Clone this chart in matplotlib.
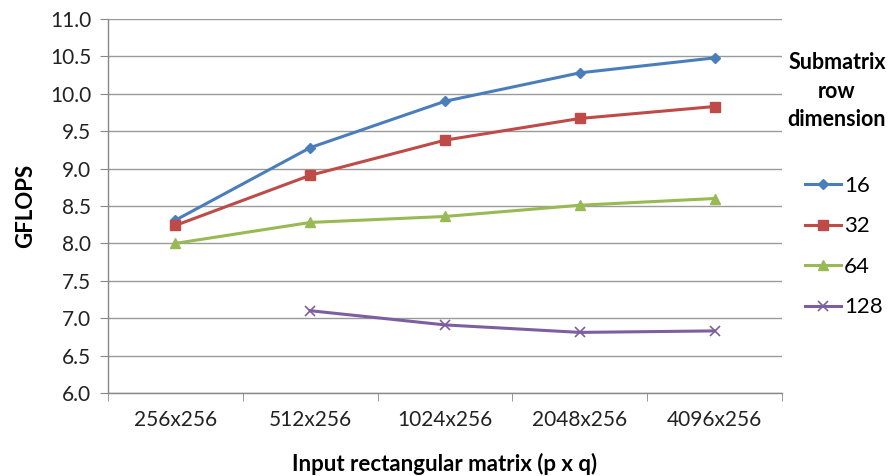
import numpy as np
import matplotlib
matplotlib.use("Agg")
import matplotlib.pyplot as plt
from matplotlib.lines import Line2D

categories = ["256x256", "512x256", "1024x256", "2048x256", "4096x256"]
s16 = [8.31, 9.28, 9.90, 10.28, 10.48]
s32 = [8.24, 8.91, 9.38, 9.67, 9.83]
s64 = [8.00, 8.28, 8.36, 8.51, 8.60]
s128 = [np.nan, 7.10, 6.91, 6.81, 6.83]
series_names = ["16", "32", "64", "128"]
yticks = [6.0, 6.5, 7.0, 7.5, 8.0, 8.5, 9.0, 9.5, 10.0, 10.5, 11.0]
legend_title = "Submatrix\nrow\ndimension"

plt.rcParams['font.family'] = ['Lato', 'DejaVu Sans']

fig = plt.figure(figsize=(8.91, 4.76), dpi=100)
ax = fig.add_axes([0.1212, 0.1744, 0.7565, 0.7857])

x = np.arange(len(categories))
styles = [
    (s16, "#4A7EBB", "D", 5.5),
    (s32, "#BE4B48", "s", 7.5),
    (s64, "#98B954", "^", 7.5),
    (s128, "#7D5FA0", "x", 7),
]
handles = []
for (vals, col, mk, ms), name in zip(styles, series_names):
    kw = dict(color=col, lw=2.2, marker=mk, markersize=ms)
    if mk == "x":
        kw.update(markeredgewidth=1.2)
    else:
        kw.update(markeredgecolor=col)
    ax.plot(x, vals, **kw)
    handles.append(Line2D([0], [0], label=name, **kw))

ax.set_xlim(-0.5, len(categories) - 0.5)
ax.set_ylim(6.0, 11.0)
ax.set_yticks(yticks)
ax.set_yticklabels([f"{v:.1f}" for v in yticks], fontsize=15, color="#222222")
ax.set_xticks(x)
ax.set_xticklabels(categories, fontsize=15, color="#222222")
ax.tick_params(axis="x", length=0, pad=12)
ax.set_xticks(np.arange(-0.5, len(categories), 1.0), minor=True)
ax.tick_params(axis="x", which="minor", length=6, color="#888888", direction="out")
ax.tick_params(axis="y", length=6, color="#888888", direction="out", pad=6)
ax.grid(axis="y", color="#9a9a9a", lw=1.0)
ax.set_axisbelow(True)
for side in ["top", "right"]:
    ax.spines[side].set_visible(False)
for side in ["left", "bottom"]:
    ax.spines[side].set_color("#888888")
    ax.spines[side].set_linewidth(1.0)

ax.set_xlabel("Input rectangular matrix (p x q)", fontsize=16, fontweight="bold", labelpad=17)
ax.set_ylabel("GFLOPS", fontsize=16, fontweight="bold", labelpad=10)

fig.text(837 / 891, 1 - 91 / 476, legend_title, ha="center", va="center",
         fontsize=15.5, fontweight="bold", linespacing=1.45)

leg = fig.legend(handles=handles, loc="upper left", bbox_to_anchor=(805 / 891, 1 - 176 / 476),
                 frameon=False, fontsize=16, handlelength=1.6, handletextpad=0.15,
                 labelspacing=0.92, borderpad=0, borderaxespad=0)

fig.savefig("out.png", dpi=100)
